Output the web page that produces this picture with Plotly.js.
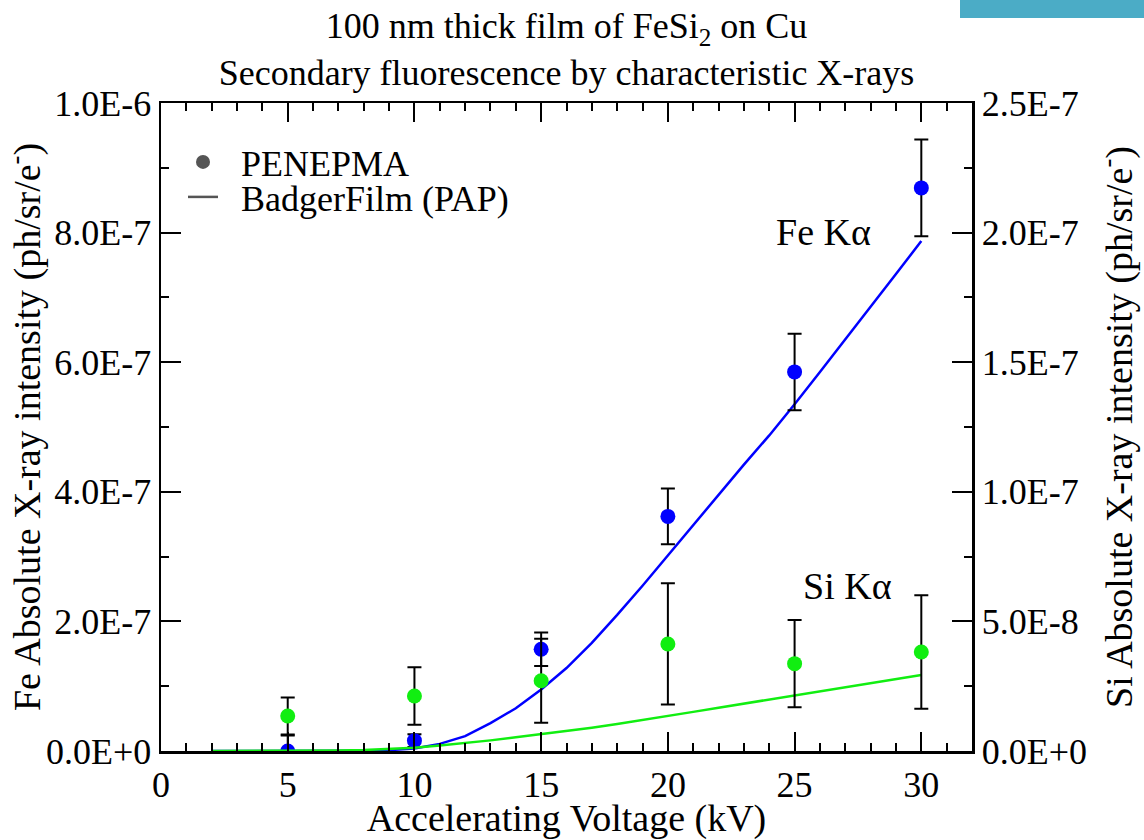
<!DOCTYPE html>
<html>
<head>
<meta charset="utf-8">
<script src="https://cdn.plot.ly/plotly-3.0.1.min.js"></script>
<style>
html,body{margin:0;padding:0;background:#fff;}
#chart{width:1144px;height:840px;}
</style>
</head>
<body>
<div id="chart"></div>
<script>
// ---- data ----
const curveKV = [2,3,4,5,6,7,8,9,10,11,12,13,14,15,16,17,18,19,20,21,22,23,24,25,26,27,28,29,30];
const feCurve = [0,0,0,0,0,0.1e-9,0.4e-9,1.3e-9,4e-9,1.1e-8,2.3e-8,4.3e-8,6.6e-8,9.5e-8,1.28e-7,1.67e-7,2.1e-7,2.55e-7,3.02e-7,3.48e-7,3.95e-7,4.42e-7,4.87e-7,5.35e-7,5.85e-7,6.35e-7,6.85e-7,7.36e-7,7.87e-7];
const siCurve = [0,0,0,0,0.05e-9,0.15e-9,0.35e-9,0.7e-9,1.3e-9,2.1e-9,3.0e-9,4.1e-9,5.3e-9,6.5e-9,7.7e-9,9.0e-9,10.4e-9,11.9e-9,13.5e-9,15.1e-9,16.7e-9,18.3e-9,19.9e-9,21.5e-9,23.1e-9,24.6e-9,26.1e-9,27.7e-9,29.3e-9];
const pointKV = [5,10,15,20,25,30];
const fePoints = [0,1.6e-8,1.57e-7,3.62e-7,5.85e-7,8.69e-7];
const feErr = [2.4e-8,9.8e-9,2.6e-8,4.3e-8,5.9e-8,7.45e-8];
const siPoints = [1.35e-8,2.12e-8,2.71e-8,4.13e-8,3.37e-8,3.82e-8];
const siErr = [7.1e-9,1.11e-8,1.62e-8,2.34e-8,1.68e-8,2.19e-8];
const xTickVals = [0,5,10,15,20,25,30];
const xTickText = ['0','5','10','15','20','25','30'];
const leftTickVals = [0,2e-7,4e-7,6e-7,8e-7,1e-6];
const leftTickText = ['0.0E+0','2.0E-7','4.0E-7','6.0E-7','8.0E-7','1.0E-6'];
const rightTickVals = [0,5e-8,1e-7,1.5e-7,2e-7,2.5e-7];
const rightTickText = ['0.0E+0','5.0E-8','1.0E-7','1.5E-7','2.0E-7','2.5E-7'];
const legendNames = ['PENEPMA', 'BadgerFilm (PAP)'];

const FONT = '"Liberation Serif", "Times New Roman", serif';
const BLUE = '#0000FF';
const GREEN = '#11EE11';
const PAD = '\u00a0\u00a0';

const traces = [
  {x: curveKV, y: feCurve, mode: 'lines', line: {color: BLUE, width: 2.5}, showlegend: false, yaxis: 'y', hoverinfo:'skip'},
  {x: curveKV, y: siCurve, mode: 'lines', line: {color: GREEN, width: 2.5}, showlegend: false, yaxis: 'y2', hoverinfo:'skip'},
  {x: pointKV, y: fePoints, mode: 'markers', marker: {color: BLUE, size: 15},
   error_y: {type: 'data', array: feErr, visible: true, color: '#000', thickness: 2, width: 7},
   showlegend: false, yaxis: 'y'},
  {x: pointKV, y: siPoints, mode: 'markers', marker: {color: GREEN, size: 15},
   error_y: {type: 'data', array: siErr, visible: true, color: '#000', thickness: 2, width: 7},
   showlegend: false, yaxis: 'y2'},
  {x: [null], y: [null], mode: 'markers', marker: {color: '#555', size: 14}, name: PAD + legendNames[0], legend: 'legend'},
  {x: [null], y: [null], mode: 'lines', line: {color: '#555', width: 2.5}, name: PAD + legendNames[1], legend: 'legend2'}
];

const layout = {
  width: 1144, height: 840,
  margin: {l: 161, r: 172, t: 103, b: 89},
  paper_bgcolor: '#fff', plot_bgcolor: '#fff',
  font: {family: FONT, color: '#000', size: 36},
  title: {
    text: '100 nm thick film of FeSi<sub>2</sub> on Cu<br>Secondary fluorescence by characteristic X-rays',
    font: {family: FONT, size: 36, color: '#000'},
    xref: 'paper', x: 0.5, xanchor: 'center',
    yref: 'container', y: 1 - 38/840, yanchor: 'middle'
  },
  xaxis: {
    range: [0, 32], tickvals: xTickVals, ticktext: xTickText,
    ticks: 'inside', ticklen: 19, tickwidth: 2, tickcolor: '#000',
    minor: {dtick: 1, ticks: 'inside', ticklen: 8, tickwidth: 2, tickcolor: '#000'},
    showline: true, linewidth: 2.5, linecolor: '#000', mirror: 'ticks',
    showgrid: false, zeroline: false,
    tickfont: {family: FONT, size: 36},
    title: {text: 'Accelerating Voltage (kV)', font: {family: FONT, size: 38}, standoff: 8}
  },
  yaxis: {
    range: [0, 1e-6], tickvals: leftTickVals, ticktext: leftTickText,
    ticks: 'inside', ticklen: 20, tickwidth: 2, tickcolor: '#000',
    minor: {dtick: 1e-7, ticks: 'inside', ticklen: 8, tickwidth: 2, tickcolor: '#000'},
    showline: true, linewidth: 2.5, linecolor: '#000',
    showgrid: false, zeroline: false,
    tickfont: {family: FONT, size: 36},
    title: {text: 'Fe Absolute X-ray intensity (ph/sr/e<sup>-</sup>)', font: {family: FONT, size: 38}, standoff: 0}
  },
  yaxis2: {
    range: [0, 2.5e-7], tickvals: rightTickVals, ticktext: rightTickText,
    overlaying: 'y', side: 'right',
    ticks: 'inside', ticklen: 20, tickwidth: 2, tickcolor: '#000',
    minor: {dtick: 2.5e-8, ticks: 'inside', ticklen: 8, tickwidth: 2, tickcolor: '#000'},
    showline: true, linewidth: 2.5, linecolor: '#000',
    showgrid: false, zeroline: false,
    tickfont: {family: FONT, size: 36},
    title: {text: 'Si Absolute X-ray intensity (ph/sr/e<sup>-</sup>)', font: {family: FONT, size: 38}, standoff: 20}
  },
  legend: {x: (183-161)/811, xanchor: 'left', y: (751-162)/648, yanchor: 'middle', bgcolor: 'rgba(0,0,0,0)',
           font: {family: FONT, size: 36}, borderwidth: 0},
  legend2: {x: (183-161)/811, xanchor: 'left', y: (751-197)/648, yanchor: 'middle', bgcolor: 'rgba(0,0,0,0)',
           font: {family: FONT, size: 36}, borderwidth: 0},
  annotations: [
    {text: 'Fe K\u03b1', xref: 'paper', yref: 'paper', x: (823-161)/811, y: (751-232)/648,
     showarrow: false, xanchor: 'center', yanchor: 'middle', font: {family: FONT, size: 38}},
    {text: 'Si K\u03b1', xref: 'paper', yref: 'paper', x: (847-161)/811, y: (751-586)/648,
     showarrow: false, xanchor: 'center', yanchor: 'middle', font: {family: FONT, size: 38}}
  ],
  shapes: [
    {type: 'rect', xref: 'paper', yref: 'paper', x0: (960-161)/811, x1: (1144-161)/811,
     y0: (751-18)/648, y1: 751/648, fillcolor: '#4BACC6', line: {width: 0}, layer: 'above'}
  ]
};

Plotly.newPlot('chart', traces, layout, {displayModeBar: false, staticPlot: true});
</script>
</body>
</html>
